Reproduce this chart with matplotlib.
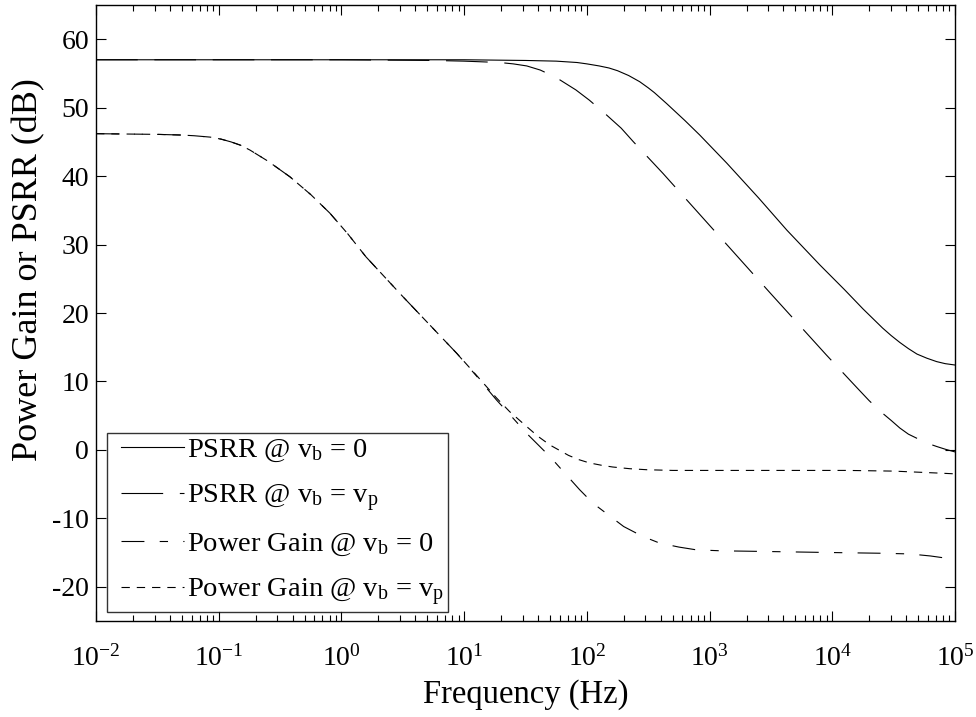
import numpy as np
import matplotlib
matplotlib.use("Agg")
import matplotlib.pyplot as plt
from matplotlib.legend_handler import HandlerLine2D
from matplotlib.lines import Line2D

# ---------------- data (log10 of frequency in Hz, values in dB) ----------------
psrr_vb0_logf = [-2.0, -1.0, 0.0, 1.0, 1.5, 1.75, 1.92, 2.0, 2.1, 2.18, 2.25, 2.34,
                 2.43, 2.5, 2.55, 2.65, 2.8, 2.92, 3.14, 3.4, 3.63, 3.9, 4.1, 4.25,
                 4.33, 4.41, 4.48, 4.55, 4.62, 4.69, 4.77, 4.85, 4.92, 5.0]
psrr_vb0_db = [57.0, 57.0, 57.0, 57.0, 56.9, 56.8, 56.6, 56.4, 56.1, 55.8, 55.4, 54.7,
               53.8, 52.9, 52.2, 50.6, 48.1, 46.0, 41.9, 36.8, 32.1, 27.0, 23.4, 20.6,
               19.2, 17.8, 16.7, 15.7, 14.8, 14.0, 13.4, 12.9, 12.6, 12.4]

psrr_vbvp_logf = [-2.0, -1.0, 0.0, 0.75, 1.0, 1.29, 1.4, 1.51, 1.62, 1.75, 1.91, 2.02,
                  2.15, 2.28, 2.38, 2.5, 2.62, 2.72, 2.96, 3.06, 3.5, 3.95, 4.2, 4.3,
                  4.4, 4.48, 4.55, 4.62, 4.7, 4.77, 4.85, 4.92, 5.0]
psrr_vbvp_db = [57.0, 57.0, 57.0, 56.9, 56.8, 56.6, 56.4, 56.1, 55.5, 54.4, 52.6, 51.1,
                49.1, 47.0, 45.0, 42.7, 40.4, 38.4, 33.6, 31.6, 22.8, 13.9, 9.1, 7.2,
                5.5, 4.3, 3.2, 2.3, 1.6, 1.0, 0.5, 0.1, -0.3]

gain_vb0_logf = [-2.0, -1.5, -1.3, -1.2, -1.07, -0.98, -0.9, -0.82, -0.745, -0.6, -0.42,
                 -0.25, -0.095, 0.05, 0.2, 0.5, 0.94, 1.1, 1.263, 1.37, 1.51, 1.7, 1.94,
                 2.05, 2.3, 2.45, 2.59, 2.75, 2.89, 3.1, 3.3, 4.0, 4.39, 4.63, 4.8, 4.96, 5.0]
gain_vb0_db = [46.2, 46.1, 46.0, 45.9, 45.7, 45.4, 45.0, 44.5, 43.8, 42.2, 39.9,
               37.3, 34.6, 31.6, 28.2, 22.4, 14.1, 10.8, 7.3, 5.2, 2.4, -1.0, -5.8,
               -7.8, -11.2, -12.6, -13.6, -14.2, -14.6, -14.75, -14.8, -15.0, -15.1, -15.2,
               -15.5, -15.9, -16.0]

gain_vbvp_logf = [-2.0, -1.5, -1.3, -1.2, -1.07, -0.98, -0.9, -0.82, -0.745, -0.6, -0.42,
                  -0.25, -0.095, 0.05, 0.2, 0.5, 0.94, 1.1, 1.263, 1.37, 1.51, 1.6, 1.7,
                  1.78, 1.85, 1.93, 2.02, 2.12, 2.21, 2.35, 2.49, 2.7, 3.03, 4.12, 4.5,
                  4.88, 5.0]
gain_vbvp_db = [46.2, 46.1, 46.0, 45.9, 45.7, 45.4, 45.0, 44.5, 43.8, 42.2, 39.9,
                37.3, 34.6, 31.6, 28.2, 22.4, 14.1, 10.9, 7.6, 5.6, 3.4, 2.0, 0.7,
                -0.1, -0.8, -1.4, -1.9, -2.25, -2.5, -2.75, -2.9, -3.0, -3.0, -3.0, -3.1,
                -3.4, -3.5]

labels = [r"PSRR @ v$_\mathrm{b}$ = 0",
          r"PSRR @ v$_\mathrm{b}$ = v$_\mathrm{p}$",
          r"Power Gain @ v$_\mathrm{b}$ = 0",
          r"Power Gain @ v$_\mathrm{b}$ = v$_\mathrm{p}$"]

x_label = "Frequency (Hz)"
y_label = "Power Gain or PSRR (dB)"
y_ticks = [-20, -10, 0, 10, 20, 30, 40, 50, 60]

# ---------------- style ----------------
plt.rcParams['font.family'] = ['Liberation Serif', 'DejaVu Serif']
plt.rcParams['mathtext.fontset'] = 'custom'
plt.rcParams['mathtext.rm'] = 'Liberation Serif'
plt.rcParams['mathtext.it'] = 'Liberation Serif:italic'
plt.rcParams['mathtext.bf'] = 'Liberation Serif:bold'
plt.rcParams['axes.unicode_minus'] = False
plt.rcParams['lines.scale_dashes'] = False

fig = plt.figure(figsize=(9.76, 7.17), dpi=100)
ax = fig.add_axes([0.0984, 0.1339, 0.8801, 0.8591])

series = [
    (psrr_vb0_logf, psrr_vb0_db, (None, None)),
    (psrr_vbvp_logf, psrr_vbvp_db, (30, 12)),
    (gain_vb0_logf, gain_vb0_db, (16.5, 11, 6, 11)),
    (gain_vbvp_logf, gain_vbvp_db, (6, 5)),
]

for (lf, db, dash), lab in zip(series, labels):
    f = 10.0 ** np.asarray(lf)
    if dash[0] is None:
        ax.semilogx(f, db, color='black', lw=0.8, label=lab)
    else:
        ax.semilogx(f, db, color='black', lw=0.8, label=lab, dashes=dash)

ax.set_xlim(1e-2, 1e5)
ax.set_ylim(-25, 65)
ax.set_yticks(y_ticks)
ax.set_xticks([10.0 ** k for k in range(-2, 6)])
ax.xaxis.set_minor_locator(matplotlib.ticker.LogLocator(base=10, subs=np.arange(2, 10), numticks=20))
ax.xaxis.set_minor_formatter(matplotlib.ticker.NullFormatter())

ax.tick_params(which='both', direction='in', top=True, right=True, labelsize=20, width=0.8)
ax.tick_params(which='major', length=7)
ax.tick_params(which='minor', length=4)
ax.tick_params(axis='x', pad=17)
ax.tick_params(axis='y', pad=5)
for s in ax.spines.values():
    s.set_linewidth(1.0)

ax.set_xlabel(x_label, fontsize=23.5, labelpad=6)
ax.set_ylabel(y_label, fontsize=26)
ax.yaxis.set_label_coords(-0.059, 0.571)

leg = ax.legend(loc='lower left', bbox_to_anchor=(0.0128, 0.0146), borderaxespad=0,
                fontsize=20.5, frameon=True, fancybox=False, handlelength=2.56,
                handletextpad=0.1, labelspacing=0.62, borderpad=0.15,
                handler_map={Line2D: HandlerLine2D(xpad=0.35)})
leg.get_frame().set_edgecolor('black')
leg.get_frame().set_linewidth(1.0)

fig.savefig('out.png', dpi=100)
